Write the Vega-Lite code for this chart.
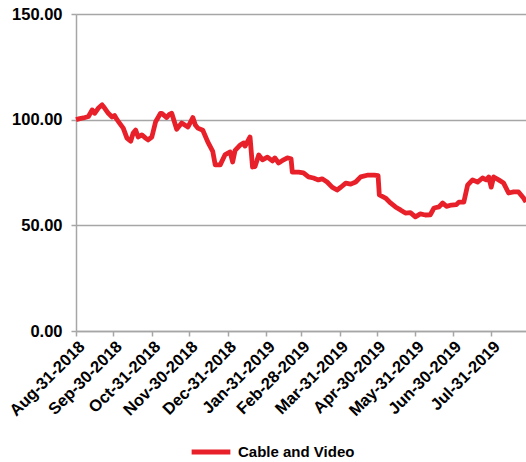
{
  "$schema": "https://vega.github.io/schema/vega-lite/v6.json",
  "width": 450,
  "height": 317,
  "autosize": {"type": "none"},
  "padding": {"left": 76, "top": 14, "right": 0, "bottom": 131},
  "background": "white",
  "config": {
    "view": {"stroke": null},
    "font": "Liberation Sans",
    "axis": {
      "labelFont": "Liberation Sans",
      "labelFontWeight": "bold",
      "labelFontSize": 16.5,
      "labelColor": "#000000",
      "domainColor": "#A6A6A6",
      "tickColor": "#A6A6A6",
      "gridColor": "#A6A6A6",
      "domainWidth": 1.5,
      "tickWidth": 1.5,
      "gridWidth": 1.5,
      "tickSize": 5,
      "title": null
    },
    "legend": {
      "labelFont": "Liberation Sans",
      "labelFontWeight": "bold",
      "labelFontSize": 15,
      "labelColor": "#000000"
    }
  },
  "data": {
    "values": [
      {"date": "2018-08-31", "value": 100.0, "series": "Cable and Video"},
      {"date": "2018-09-03", "value": 100.5, "series": "Cable and Video"},
      {"date": "2018-09-06", "value": 100.8, "series": "Cable and Video"},
      {"date": "2018-09-10", "value": 101.5, "series": "Cable and Video"},
      {"date": "2018-09-13", "value": 104.6, "series": "Cable and Video"},
      {"date": "2018-09-15", "value": 103.0, "series": "Cable and Video"},
      {"date": "2018-09-18", "value": 105.5, "series": "Cable and Video"},
      {"date": "2018-09-21", "value": 107.0, "series": "Cable and Video"},
      {"date": "2018-09-23", "value": 105.5, "series": "Cable and Video"},
      {"date": "2018-09-26", "value": 103.0, "series": "Cable and Video"},
      {"date": "2018-09-29", "value": 101.3, "series": "Cable and Video"},
      {"date": "2018-10-01", "value": 102.0, "series": "Cable and Video"},
      {"date": "2018-10-03", "value": 100.0, "series": "Cable and Video"},
      {"date": "2018-10-05", "value": 98.4, "series": "Cable and Video"},
      {"date": "2018-10-08", "value": 96.0, "series": "Cable and Video"},
      {"date": "2018-10-11", "value": 91.3, "series": "Cable and Video"},
      {"date": "2018-10-14", "value": 89.8, "series": "Cable and Video"},
      {"date": "2018-10-16", "value": 93.7, "series": "Cable and Video"},
      {"date": "2018-10-18", "value": 95.1, "series": "Cable and Video"},
      {"date": "2018-10-20", "value": 91.8, "series": "Cable and Video"},
      {"date": "2018-10-23", "value": 92.8, "series": "Cable and Video"},
      {"date": "2018-10-26", "value": 91.3, "series": "Cable and Video"},
      {"date": "2018-10-28", "value": 90.4, "series": "Cable and Video"},
      {"date": "2018-10-31", "value": 91.8, "series": "Cable and Video"},
      {"date": "2018-11-03", "value": 98.9, "series": "Cable and Video"},
      {"date": "2018-11-04", "value": 100.0, "series": "Cable and Video"},
      {"date": "2018-11-07", "value": 103.0, "series": "Cable and Video"},
      {"date": "2018-11-08", "value": 103.0, "series": "Cable and Video"},
      {"date": "2018-11-12", "value": 101.0, "series": "Cable and Video"},
      {"date": "2018-11-14", "value": 102.5, "series": "Cable and Video"},
      {"date": "2018-11-16", "value": 103.0, "series": "Cable and Video"},
      {"date": "2018-11-20", "value": 95.5, "series": "Cable and Video"},
      {"date": "2018-11-24", "value": 98.4, "series": "Cable and Video"},
      {"date": "2018-11-29", "value": 96.5, "series": "Cable and Video"},
      {"date": "2018-12-03", "value": 101.0, "series": "Cable and Video"},
      {"date": "2018-12-05", "value": 97.5, "series": "Cable and Video"},
      {"date": "2018-12-07", "value": 96.0, "series": "Cable and Video"},
      {"date": "2018-12-11", "value": 95.0, "series": "Cable and Video"},
      {"date": "2018-12-15", "value": 89.5, "series": "Cable and Video"},
      {"date": "2018-12-19", "value": 85.0, "series": "Cable and Video"},
      {"date": "2018-12-21", "value": 78.6, "series": "Cable and Video"},
      {"date": "2018-12-25", "value": 78.6, "series": "Cable and Video"},
      {"date": "2018-12-29", "value": 83.5, "series": "Cable and Video"},
      {"date": "2019-01-02", "value": 84.7, "series": "Cable and Video"},
      {"date": "2019-01-04", "value": 80.0, "series": "Cable and Video"},
      {"date": "2019-01-06", "value": 85.5, "series": "Cable and Video"},
      {"date": "2019-01-10", "value": 88.0, "series": "Cable and Video"},
      {"date": "2019-01-13", "value": 89.0, "series": "Cable and Video"},
      {"date": "2019-01-14", "value": 87.5, "series": "Cable and Video"},
      {"date": "2019-01-18", "value": 91.8, "series": "Cable and Video"},
      {"date": "2019-01-20", "value": 77.6, "series": "Cable and Video"},
      {"date": "2019-01-22", "value": 77.8, "series": "Cable and Video"},
      {"date": "2019-01-25", "value": 83.3, "series": "Cable and Video"},
      {"date": "2019-01-28", "value": 81.0, "series": "Cable and Video"},
      {"date": "2019-02-01", "value": 82.3, "series": "Cable and Video"},
      {"date": "2019-02-05", "value": 80.5, "series": "Cable and Video"},
      {"date": "2019-02-07", "value": 81.9, "series": "Cable and Video"},
      {"date": "2019-02-10", "value": 79.5, "series": "Cable and Video"},
      {"date": "2019-02-14", "value": 81.0, "series": "Cable and Video"},
      {"date": "2019-02-17", "value": 81.9, "series": "Cable and Video"},
      {"date": "2019-02-20", "value": 81.5, "series": "Cable and Video"},
      {"date": "2019-02-21", "value": 75.2, "series": "Cable and Video"},
      {"date": "2019-02-26", "value": 75.2, "series": "Cable and Video"},
      {"date": "2019-03-02", "value": 74.8, "series": "Cable and Video"},
      {"date": "2019-03-06", "value": 72.9, "series": "Cable and Video"},
      {"date": "2019-03-10", "value": 72.4, "series": "Cable and Video"},
      {"date": "2019-03-14", "value": 71.5, "series": "Cable and Video"},
      {"date": "2019-03-17", "value": 72.0, "series": "Cable and Video"},
      {"date": "2019-03-21", "value": 70.5, "series": "Cable and Video"},
      {"date": "2019-03-25", "value": 68.1, "series": "Cable and Video"},
      {"date": "2019-03-29", "value": 66.7, "series": "Cable and Video"},
      {"date": "2019-04-01", "value": 68.0, "series": "Cable and Video"},
      {"date": "2019-04-05", "value": 70.0, "series": "Cable and Video"},
      {"date": "2019-04-09", "value": 69.5, "series": "Cable and Video"},
      {"date": "2019-04-13", "value": 70.5, "series": "Cable and Video"},
      {"date": "2019-04-17", "value": 72.9, "series": "Cable and Video"},
      {"date": "2019-04-23", "value": 73.8, "series": "Cable and Video"},
      {"date": "2019-04-28", "value": 73.8, "series": "Cable and Video"},
      {"date": "2019-05-01", "value": 73.5, "series": "Cable and Video"},
      {"date": "2019-05-02", "value": 64.4, "series": "Cable and Video"},
      {"date": "2019-05-07", "value": 62.9, "series": "Cable and Video"},
      {"date": "2019-05-11", "value": 60.6, "series": "Cable and Video"},
      {"date": "2019-05-15", "value": 58.7, "series": "Cable and Video"},
      {"date": "2019-05-19", "value": 57.3, "series": "Cable and Video"},
      {"date": "2019-05-23", "value": 55.8, "series": "Cable and Video"},
      {"date": "2019-05-27", "value": 56.0, "series": "Cable and Video"},
      {"date": "2019-05-31", "value": 54.0, "series": "Cable and Video"},
      {"date": "2019-06-04", "value": 55.4, "series": "Cable and Video"},
      {"date": "2019-06-08", "value": 54.9, "series": "Cable and Video"},
      {"date": "2019-06-12", "value": 55.0, "series": "Cable and Video"},
      {"date": "2019-06-15", "value": 58.2, "series": "Cable and Video"},
      {"date": "2019-06-19", "value": 58.7, "series": "Cable and Video"},
      {"date": "2019-06-22", "value": 60.6, "series": "Cable and Video"},
      {"date": "2019-06-25", "value": 59.0, "series": "Cable and Video"},
      {"date": "2019-06-29", "value": 59.6, "series": "Cable and Video"},
      {"date": "2019-07-03", "value": 59.8, "series": "Cable and Video"},
      {"date": "2019-07-05", "value": 61.0, "series": "Cable and Video"},
      {"date": "2019-07-09", "value": 61.0, "series": "Cable and Video"},
      {"date": "2019-07-12", "value": 69.0, "series": "Cable and Video"},
      {"date": "2019-07-16", "value": 71.5, "series": "Cable and Video"},
      {"date": "2019-07-20", "value": 70.5, "series": "Cable and Video"},
      {"date": "2019-07-24", "value": 72.4, "series": "Cable and Video"},
      {"date": "2019-07-27", "value": 71.5, "series": "Cable and Video"},
      {"date": "2019-07-29", "value": 72.9, "series": "Cable and Video"},
      {"date": "2019-07-31", "value": 68.1, "series": "Cable and Video"},
      {"date": "2019-08-02", "value": 72.9, "series": "Cable and Video"},
      {"date": "2019-08-06", "value": 71.5, "series": "Cable and Video"},
      {"date": "2019-08-10", "value": 70.0, "series": "Cable and Video"},
      {"date": "2019-08-14", "value": 65.3, "series": "Cable and Video"},
      {"date": "2019-08-18", "value": 65.8, "series": "Cable and Video"},
      {"date": "2019-08-22", "value": 65.8, "series": "Cable and Video"},
      {"date": "2019-08-26", "value": 62.9, "series": "Cable and Video"},
      {"date": "2019-08-28", "value": 61.0, "series": "Cable and Video"}
    ]
  },
  "mark": {"type": "line", "strokeWidth": 4.8, "strokeJoin": "round", "strokeCap": "butt"},
  "encoding": {
    "x": {
      "field": "date",
      "type": "temporal",
      "scale": {"type": "utc", "domain": [{"year": 2018, "month": 8, "date": 31, "utc": true}, {"year": 2019, "month": 8, "date": 28, "utc": true}]},
      "axis": {
        "values": [
          {"year": 2018, "month": 8, "date": 31, "utc": true},
          {"year": 2018, "month": 9, "date": 30, "utc": true},
          {"year": 2018, "month": 10, "date": 31, "utc": true},
          {"year": 2018, "month": 11, "date": 30, "utc": true},
          {"year": 2018, "month": 12, "date": 31, "utc": true},
          {"year": 2019, "month": 1, "date": 31, "utc": true},
          {"year": 2019, "month": 2, "date": 28, "utc": true},
          {"year": 2019, "month": 3, "date": 31, "utc": true},
          {"year": 2019, "month": 4, "date": 30, "utc": true},
          {"year": 2019, "month": 5, "date": 31, "utc": true},
          {"year": 2019, "month": 6, "date": 30, "utc": true},
          {"year": 2019, "month": 7, "date": 31, "utc": true}
        ],
        "labelExpr": "utcFormat(datum.value, '%b-%d-%Y')",
        "labelAngle": -45,
        "labelAlign": "right",
        "labelBaseline": "top",
        "labelPadding": 2,
        "grid": false,
        "labelOverlap": false,
        "labelBound": false
      }
    },
    "y": {
      "field": "value",
      "type": "quantitative",
      "scale": {"domain": [0, 150], "nice": false},
      "axis": {"values": [0, 50, 100, 150], "format": ".2f", "grid": true, "labelPadding": 9}
    },
    "color": {
      "field": "series",
      "type": "nominal",
      "scale": {"range": ["#E8202A"]},
      "legend": {
        "title": null,
        "orient": "none",
        "legendX": 113,
        "legendY": 416,
        "symbolType": "stroke",
        "symbolStrokeWidth": 5,
        "symbolSize": 1500,
        "labelOffset": 5
      }
    }
  }
}
